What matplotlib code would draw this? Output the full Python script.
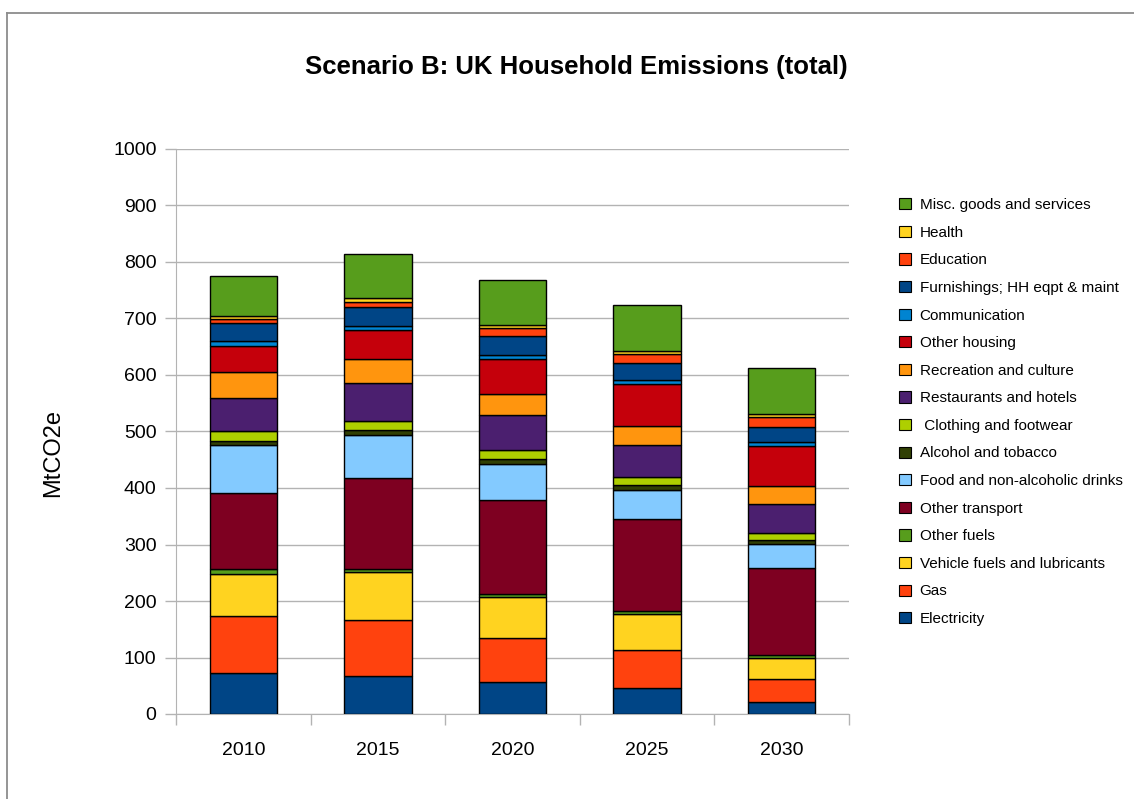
import matplotlib.pyplot as plt
import numpy as np
from matplotlib.patches import Patch
from matplotlib.lines import Line2D

plt.rcParams['font.family'] = ['Liberation Sans', 'DejaVu Sans']

years = ['2010', '2015', '2020', '2025', '2030']

# Stack order, bottom to top
categories = [
    'Electricity', 'Gas', 'Vehicle fuels and lubricants', 'Other fuels',
    'Other transport', 'Food and non-alcoholic drinks', 'Alcohol and tobacco',
    ' Clothing and footwear', 'Restaurants and hotels', 'Recreation and culture',
    'Other housing', 'Communication', 'Furnishings; HH eqpt & maint',
    'Education', 'Health', 'Misc. goods and services',
]

# MtCO2e per category, one value per year
electricity = [72, 67, 56, 46, 22]
gas = [101, 99, 78.5, 67, 40]
vehicle_fuels = [75, 85, 72.5, 64, 38]
other_fuels = [8, 5, 5, 6, 5]
other_transport = [135, 161, 167, 162, 153]
food = [85, 76, 64, 51.5, 43]
alcohol = [8, 9, 8, 8.5, 7]
clothing = [16, 17, 16, 14, 12.5]
restaurants = [59, 67, 62, 57, 52]
recreation = [47, 43, 38, 33.7, 31]
other_housing = [46, 51, 61, 74.3, 71]
communication = [9, 7, 7.5, 8, 7]
furnishings = [31, 33, 33, 29, 27]
education = [7, 10, 14.5, 16.7, 17.5]
health = [6, 6, 5.5, 4.8, 5]
misc = [71, 79, 80.5, 81.5, 81]

series = [electricity, gas, vehicle_fuels, other_fuels, other_transport, food,
          alcohol, clothing, restaurants, recreation, other_housing,
          communication, furnishings, education, health, misc]

colors = ['#004586', '#ff420e', '#ffd320', '#579d1c', '#7e0021', '#83caff',
          '#314004', '#aecf00', '#4b1f6f', '#ff950e', '#c5000b', '#0084d1',
          '#004586', '#ff420e', '#ffd320', '#579d1c']

W, H = 1134, 799
fig = plt.figure(figsize=(W / 100, H / 100), dpi=100)

# outer chart border (left and top edges visible)
fig.add_artist(Line2D([7 / W, 7 / W], [0, 1 - 13 / H], color='#8c8c8c', lw=1.3))
fig.add_artist(Line2D([7 / W, 1], [1 - 13 / H, 1 - 13 / H], color='#8c8c8c', lw=1.3))

ax = fig.add_axes([176 / W, 85 / H, 673 / W, 565 / H])

x = np.arange(len(years))
bottom = np.zeros(len(years))
for vals, col, name in zip(series, colors, categories):
    ax.bar(x, vals, width=0.5, bottom=bottom, color=col, edgecolor='black',
           linewidth=1.0, label=name, zorder=3)
    bottom += np.array(vals)

ax.set_xlim(-0.5, len(years) - 0.5)
ax.set_ylim(0, 1000)
ax.set_yticks(np.arange(0, 1001, 100))
ax.set_xticks(x)
ax.set_xticklabels(years)
ax.set_xticks(np.arange(-0.5, len(years), 1), minor=True)
ax.tick_params(axis='x', which='major', length=0, pad=20, labelsize=14)
ax.tick_params(axis='x', which='minor', length=8, color='#b3b3b3', width=1)
ax.tick_params(axis='y', length=8, color='#b3b3b3', width=1, pad=6, labelsize=14)
ax.grid(axis='y', color='#b3b3b3', linewidth=1, zorder=0)

for side in ['top', 'right']:
    ax.spines[side].set_visible(False)
for side in ['left', 'bottom']:
    ax.spines[side].set_color('#b3b3b3')

ax.set_ylabel('MtCO2e', fontsize=17)
ax.yaxis.set_label_coords((64 - 176) / 673, 0.462)

fig.text(576 / W, 1 - 67 / H, 'Scenario B: UK Household Emissions (total)',
         ha='center', va='center', fontsize=18.5, fontweight='bold')

handles = [Patch(facecolor=c, edgecolor='black', linewidth=0.8)
           for c in colors][::-1]
labels = categories[::-1]
fig.legend(handles, labels, loc='upper left',
           bbox_to_anchor=(893 / W, 1 - 192 / H), frameon=False,
           fontsize=11, handlelength=0.75, handleheight=0.75,
           handletextpad=0.6, labelspacing=0.89, borderaxespad=0)

fig.savefig('out.png', dpi=100)
